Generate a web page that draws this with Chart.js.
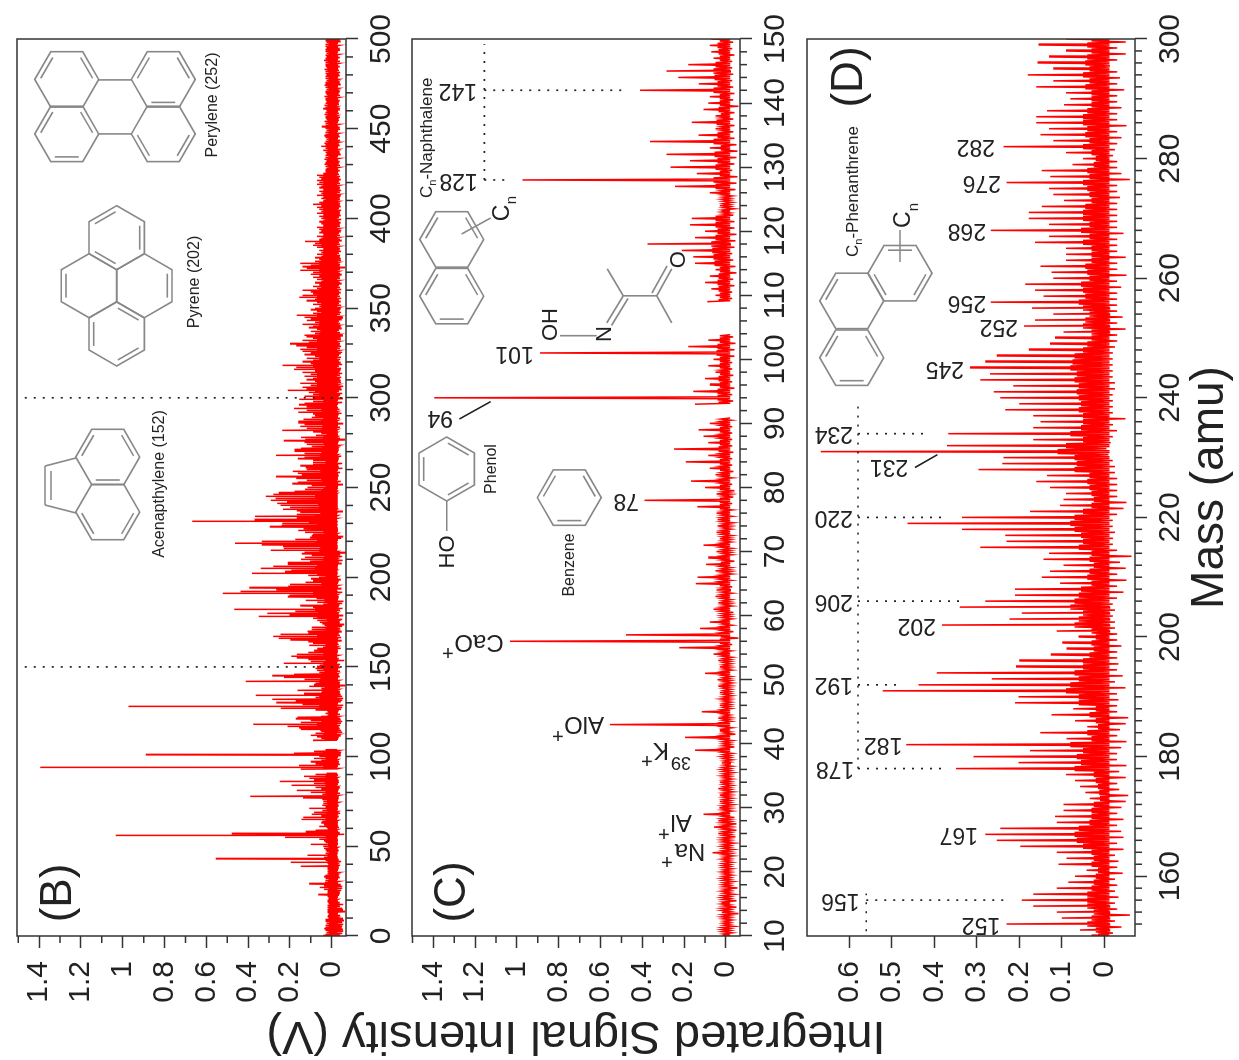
<!DOCTYPE html>
<html>
<head>
<meta charset="utf-8">
<script src="https://cdn.jsdelivr.net/npm/chart.js@4/dist/chart.umd.js"></script>
<style>
  html, body { margin: 0; width: 1239px; height: 1060px; overflow: hidden; background: #fff; }
  /* the figure is a normal three panel plot, turned a quarter turn */
  #page { position: absolute; left: 0; top: 0; width: 1060px; height: 1239px;
          transform-origin: 0 0; transform: translate(0, 1060px) rotate(-90deg); }
  #page canvas { position: absolute; left: 0; top: 0; }
</style>
</head>
<body>
<div id="page">
  <canvas id="panel-b" width="1060" height="1239"></canvas>
  <canvas id="panel-c" width="1060" height="1239"></canvas>
  <canvas id="panel-d" width="1060" height="1239"></canvas>
</div>
<script>
// Peak top per amu, 10..150 (panel C). null = no data recorded
const peaksC = [
  .015,.02,.013,.02,.02,.02,.02,.02,.015,.02,
  .02,.015,.02,.064,.02,.02,.037,.057,.037,.108,
  .032,.03,.03,.037,.03,.02,.02,.02,.02,.148,
  .013,.196,.03,.555,.037,.116,.03,.025,.03,.037,
  .04,.1,.03,.037,.06,.223,1.033,.478,.124,.077,
  .02,.06,.037,.05,.045,.144,.136,.05,.096,.085,
  .045,.108,.03,.045,.04,.04,.045,.137,.39,.045,
  .1,.167,.05,.077,.193,.085,.249,.085,.108,.132,
  .077,null,null,.148,1.395,.156,.077,.1,.05,.085,
  .06,.89,.18,.085,null,null,null,null,null,.09,
  .05,.07,.1,.077,.05,.148,.156,.212,.376,.148,
  .1,.172,.164,.02,.03,.02,.077,.244,.973,.14,
  .265,.172,.284,.077,.364,.132,.05,.164,.05,.108,
  .085,.077,.411,.13,.228,.284,.18,.06,.07,.077,
  .07];
const lowsC = [
  -.03,-.04,-.03,-.06,-.05,-.05,-.04,-.055,-.035,-.03,
  -.03,-.03,-.035,-.035,-.04,-.045,-.05,-.05,-.04,-.03,
  -.035,-.03,-.035,-.03,-.03,-.035,-.03,-.03,-.03,-.04,
  -.03,-.045,-.03,-.025,-.02,-.025,-.025,-.03,-.025,-.03,
  -.025,-.03,-.025,-.03,-.025,-.03,-.06,-.035,-.03,-.03,
  -.035,-.03,-.025,-.03,-.03,-.025,-.03,-.025,-.04,-.03,
  -.03,-.025,-.03,-.025,-.035,-.03,-.03,-.03,-.035,-.04,
  -.03,-.03,-.035,-.03,-.03,-.035,-.03,-.03,-.03,-.03,
  -.025,null,null,-.035,-.03,-.04,-.03,-.035,-.03,-.03,
  -.04,-.04,-.045,-.035,null,null,null,null,null,-.03,
  -.03,-.04,-.035,-.05,-.045,-.035,-.03,-.04,-.045,-.05,
  -.04,-.04,-.035,-.04,-.03,-.03,-.045,-.05,-.055,-.03,
  -.04,-.05,-.055,-.05,-.04,-.035,-.04,-.035,-.04,-.06,
  -.035,-.04,-.035,-.03,-.035,-.03,-.03,-.04,-.03,-.035,
  -.035];
// Top of the dense trace between the integer masses
const midsC = [
  .012,.018,.01,.015,.02,.012,.015,.01,.012,.014,
  .012,.015,.01,.014,.012,.018,.012,.015,.02,.014,
  .018,.012,.015,.01,.014,.012,.015,.01,.012,.018,
  .015,.02,.012,.02,.015,.02,.012,.014,.01,.015,
  .012,.018,.014,.012,.02,.025,.03,.025,.02,.015,
  .018,.025,.015,.02,.022,.03,.028,.018,.025,.02,
  .015,.025,.018,.02,.015,.022,.02,.03,.03,.018,
  .03,.025,.02,.028,.03,.025,.035,.03,.028,.03,
  .025,0,0,.035,.04,.04,.03,.035,.028,.03,
  .03,.045,.04,.03,0,0,0,0,0,.035,
  .03,.035,.04,.035,.03,.055,.06,.065,.07,.05,
  .04,.05,.05,.015,.012,.015,.02,.05,.06,.03,
  .05,.04,.055,.025,.06,.04,.02,.045,.025,.035,
  .03,.03,.06,.04,.055,.06,.05,.03,.035,.04,
  .03];

// Peak top per amu, 150..300 (panel D)
const peaksD = [
  .03,.057,.23,.1,.112,.167,.194,.167,.112,.085,
  .069,.042,.108,.089,.112,.198,.253,.28,.245,.112,
  .116,.096,.096,.034,.045,.057,.069,.09,.349,.202,
  .308,.175,.466,.089,.151,.04,.069,.124,.073,.21,
  .202,.521,.437,.265,.394,.208,.2,.126,.089,.099,
  .061,.112,.382,.223,.194,.34,.28,.21,.21,.104,
  .147,.128,.096,.143,.13,.292,.23,.233,.335,.463,
  .335,.175,.104,.096,.09,.128,.16,.135,.296,.24,
  .237,.667,.37,.167,.367,.167,.15,.167,.233,.2,
  .245,.26,.214,.292,.269,.316,.28,.253,.178,.128,
  .116,.096,.189,.163,.12,.17,.267,.143,.163,.186,
  .12,.124,.15,.09,.09,.09,.163,.13,.267,.13,
  .178,.178,.147,.095,.12,.13,.23,.127,.147,.075,
  .05,.09,.237,.12,.15,.13,.16,.16,.135,.095,
  .08,.09,.16,.12,.18,.12,.157,.13,.09,.155,
  .09];
const lowsD = [
  -.02,-.04,-.025,-.06,-.03,-.025,-.033,-.025,-.03,-.025,
  -.043,-.03,-.033,-.025,-.045,-.03,-.045,-.04,-.03,-.045,
  -.03,-.04,-.05,-.056,-.035,-.03,-.05,-.035,-.052,-.03,
  -.03,-.04,-.052,-.03,-.037,-.05,-.056,-.03,-.03,-.033,
  -.03,-.05,-.025,-.043,-.03,-.033,-.03,-.03,-.04,-.03,
  -.03,-.025,-.025,-.02,-.025,-.02,-.03,-.045,-.03,-.052,
  -.03,-.05,-.037,-.064,-.03,-.02,-.02,-.025,-.02,-.02,
  -.03,-.045,-.052,-.03,-.03,-.03,-.03,-.025,-.025,-.02,
  -.01,-.005,-.015,-.02,-.03,-.02,-.05,-.02,-.02,-.02,
  -.02,-.025,-.025,-.02,-.02,-.02,-.02,-.02,-.025,-.03,
  -.03,-.05,-.03,-.043,-.03,-.03,-.03,-.03,-.04,-.03,
  -.052,-.03,-.03,-.05,-.03,-.03,-.03,-.045,-.03,-.03,
  -.03,-.03,-.03,-.037,-.03,-.03,-.06,-.04,-.03,-.03,
  -.02,-.025,-.03,-.04,-.03,-.052,-.03,-.03,-.04,-.03,
  -.03,-.047,-.03,-.037,-.03,-.013,-.03,-.05,-.03,-.05,
  -.03];
const midsD = [
  .015,.02,.04,.03,.025,.04,.04,.04,.03,.025,
  .02,.015,.03,.025,.03,.05,.065,.07,.06,.035,
  .03,.03,.025,.01,.012,.015,.02,.025,.07,.055,
  .065,.05,.08,.03,.04,.015,.02,.035,.02,.06,
  .06,.09,.08,.06,.07,.05,.05,.035,.025,.03,
  .02,.03,.07,.06,.05,.08,.07,.06,.055,.03,
  .04,.035,.025,.035,.03,.06,.05,.055,.07,.08,
  .07,.05,.03,.025,.03,.035,.04,.035,.07,.065,
  .07,.11,.09,.05,.08,.055,.05,.05,.06,.055,
  .06,.065,.06,.07,.065,.08,.075,.07,.05,.04,
  .03,.03,.05,.045,.035,.05,.06,.045,.05,.055,
  .035,.04,.045,.03,.03,.03,.05,.035,.055,.035,
  .05,.05,.045,.03,.035,.04,.05,.035,.04,.025,
  .02,.03,.05,.035,.045,.04,.05,.05,.04,.03,
  .03,.03,.045,.035,.05,.035,.045,.04,.03,.04,
  .03];

// Panel B is the full scan: these cover 0..9 and 301..500, C and D fill the middle
const peaksHead = [.04,.03,.025,.03,.035,.03,.03,.025,.03,.03];
const lowsHead = [-.04,-.05,-.055,-.05,-.045,-.05,-.055,-.05,-.055,-.05];
const midsHead = [.012,.01,.012,.015,.012,.01,.014,.012,.01,.012];
const peaksTail = [
  .13,.09,.11,.21,.12,.14,.1,.15,.08,.12,
  .09,.13,.1,.14,.08,.18,.17,.236,.1,.14,
  .09,.12,.08,.13,.1,.14,.15,.12,.17,.2,
  .11,.14,.09,.12,.13,.08,.1,.07,.11,.09,
  .14,.08,.12,.1,.13,.167,.09,.07,.1,.08,
  .06,.09,.07,.12,.08,.155,.14,.09,.1,.14,
  .07,.09,.06,.08,.05,.07,.09,.06,.1,.09,
  .15,.12,.14,.1,.15,.08,.06,.08,.05,.07,
  .05,.06,.04,.07,.09,.08,.128,.06,.05,.07,
  .04,.06,.05,.06,.07,.04,.05,.06,.04,.05,
  .06,.04,.07,.05,.06,.07,.05,.09,.06,.04,
  .05,.04,.07,.05,.06,.04,.06,.05,.07,.06,
  .07,.05,.06,.07,.04,.03,.03,.025,.03,.035,
  .03,.025,.035,.03,.03,.025,.03,.04,.03,.05,
  .03,.035,.03,.025,.03,.035,.03,.03,.025,.03,
  .048,.03,.03,.035,.025,.03,.03,.035,.03,.025,
  .04,.03,.035,.03,.025,.03,.03,.035,.025,.03,
  .03,.025,.03,.035,.03,.03,.025,.03,.03,.025,
  .03,.03,.035,.025,.03,.03,.03,.037,.03,.025,
  .03,.025,.03,.03,.025,.03,.03,.025,.03,.025];
const lowsTail = [
  -.04,-.05,-.035,-.045,-.04,-.055,-.035,-.045,-.04,-.035,
  -.045,-.04,-.05,-.035,-.04,-.045,-.035,-.05,-.04,-.035,
  -.04,-.045,-.035,-.04,-.05,-.035,-.04,-.045,-.035,-.04,
  -.035,-.045,-.04,-.05,-.035,-.04,-.035,-.045,-.04,-.035,
  -.04,-.035,-.045,-.05,-.035,-.04,-.045,-.035,-.04,-.035,
  -.045,-.035,-.04,-.035,-.045,-.04,-.035,-.04,-.035,-.045,
  -.04,-.035,-.045,-.04,-.035,-.04,-.035,-.045,-.04,-.035,
  -.04,-.06,-.035,-.04,-.035,-.045,-.04,-.035,-.04,-.035,
  -.045,-.035,-.04,-.035,-.04,-.035,-.045,-.04,-.035,-.04,
  -.035,-.04,-.045,-.035,-.04,-.035,-.04,-.035,-.045,-.035,
  -.04,-.035,-.04,-.045,-.035,-.04,-.035,-.04,-.035,-.04,
  -.035,-.04,-.035,-.04,-.045,-.035,-.04,-.035,-.04,-.035,
  -.04,-.035,-.04,-.035,-.03,-.035,-.03,-.035,-.04,-.03,
  -.035,-.03,-.035,-.03,-.04,-.035,-.03,-.035,-.03,-.035,
  -.03,-.035,-.04,-.03,-.035,-.03,-.035,-.03,-.04,-.035,
  -.03,-.035,-.03,-.035,-.03,-.04,-.03,-.035,-.03,-.035,
  -.04,-.03,-.035,-.03,-.035,-.03,-.035,-.04,-.03,-.035,
  -.03,-.035,-.03,-.04,-.035,-.03,-.035,-.03,-.035,-.03,
  -.04,-.035,-.03,-.035,-.03,-.035,-.04,-.03,-.035,-.03,
  -.035,-.03,-.04,-.035,-.03,-.035,-.03,-.04,-.035,-.03];
const midsTail = [
  .06,.05,.06,.08,.06,.07,.05,.07,.05,.06,
  .05,.07,.06,.07,.05,.08,.08,.09,.06,.07,
  .05,.06,.05,.07,.06,.07,.07,.06,.08,.08,
  .06,.07,.05,.06,.06,.05,.055,.04,.06,.05,
  .06,.05,.06,.05,.06,.07,.05,.04,.05,.05,
  .04,.05,.04,.06,.05,.07,.06,.05,.05,.06,
  .04,.05,.04,.05,.03,.04,.05,.04,.05,.05,
  .06,.06,.06,.05,.06,.05,.04,.05,.03,.04,
  .03,.04,.025,.04,.05,.05,.06,.04,.03,.04,
  .025,.04,.03,.04,.04,.025,.03,.04,.025,.03,
  .04,.025,.04,.03,.04,.04,.03,.05,.04,.025,
  .03,.025,.04,.03,.04,.025,.04,.03,.04,.04,
  .04,.03,.04,.04,.025,.015,.02,.012,.015,.02,
  .015,.012,.02,.015,.015,.012,.015,.02,.015,.025,
  .015,.02,.015,.012,.015,.02,.015,.015,.012,.015,
  .025,.015,.015,.02,.012,.015,.015,.02,.015,.012,
  .02,.015,.02,.015,.012,.015,.015,.02,.012,.015,
  .015,.012,.015,.02,.015,.015,.012,.015,.015,.012,
  .015,.015,.02,.012,.015,.015,.015,.02,.015,.012,
  .015,.012,.015,.015,.012,.015,.015,.012,.015,.012];

const peaksB = [...peaksHead, ...peaksC, ...peaksD.slice(1), ...peaksTail];
const lowsB = [...lowsHead, ...lowsC, ...lowsD.slice(1), ...lowsTail];
const midsB = [...midsHead, ...midsC, ...midsD.slice(1), ...midsTail];

// Tick lists
const massTicksB = [0,50,100,150,200,250,300,350,400,450,500];
const massMinorB = [10,20,30,40,60,70,80,90,110,120,130,140,160,170,180,190,210,220,230,240,260,270,280,290,310,320,330,340,360,370,380,390,410,420,430,440,460,470,480,490];
const massTicksC = [10,20,30,40,50,60,70,80,90,100,110,120,130,140,150];
const massMinorC = [12,14,16,18,22,24,26,28,32,34,36,38,42,44,46,48,52,54,56,58,62,64,66,68,72,74,76,78,82,84,86,88,92,94,96,98,102,104,106,108,112,114,116,118,122,124,126,128,132,134,136,138,142,144,146,148];
const massTicksD = [160,180,200,220,240,260,280,300];
const massMinorD = [152,154,156,158,162,164,166,168,170,172,174,176,178,182,184,186,188,190,192,194,196,198,202,204,206,208,210,212,214,216,218,222,224,226,228,230,232,234,236,238,242,244,246,248,250,252,254,256,258,262,264,266,268,270,272,274,276,278,282,284,286,288,290,292,294,296,298];
const voltTicksBC = [0,.2,.4,.6,.8,1,1.2,1.4];
const voltMinorBC = [.1,.3,.5,.7,.9,1.1,1.3,1.5];
const voltTicksD = [0,.1,.2,.3,.4,.5,.6];

// Dotted guides and peak labels, in mass / volt
const guidesB = [[300,-.048,300,1.477],[150,-.048,150,1.477]];
const guidesC = [[128,1.156,149.2,1.156],[142,1.156,142,.475],[128,1.156,128,1.043]];
const guidesD = [[178,.5795,239.3,.5795],[150.8,.56,157.1,.56],[234,.5795,234,.41],[220,.5795,220,.38],[206,.5795,206,.327],[192,.5795,192,.475],[178,.5795,178,.38],[156,.56,156,.226]];
const peakLabelsC = [['142',142,1.191],['128',128,1.187],['94',90.9,1.306],['101',101,.919],['78',78,.416]];
const peakLabelsD = [['282',282,.257],['276',276,.243],['268',268,.278],['256',256,.278],['252',252,.203],['245',245,.33],['234',234,.591],['231',228.5,.461],['220',220,.591],['206',206,.591],['202',202,.396],['192',192,.591],['182',182,.475],['178',178,.588],['167',167,.297],['156',156,.576],['152',152,.245]];

const RED = '#ff0000';
const INK = '#333333';
Chart.defaults.font.family = '"Liberation Sans", Arial, sans-serif';
Chart.defaults.color = '#222';

// each amu: the spike, then a tight zigzag that paints the solid band under it
function spectrum(startMass, peaks, lows, mids, base) {
  const pts = [];
  peaks.forEach((p, i) => {
    const m = startMass + i;
    if (p === null) { pts.push({ x: m, y: null }); return; }
    const next = mids[i + 1] || mids[i];
    pts.push({ x: m, y: p });
    pts.push({ x: m + .15, y: base });
    pts.push({ x: m + .32, y: mids[i] });
    pts.push({ x: m + .5, y: lows[i] });
    pts.push({ x: m + .68, y: next });
    pts.push({ x: m + .85, y: base });
  });
  return pts;
}

function panelPlugin(p) {
  return {
    id: 'panel',
    afterDatasetsDraw(chart) {
      const { ctx, chartArea: a, scales: { x, y } } = chart;
      ctx.save();
      ctx.strokeStyle = INK;
      ctx.lineWidth = 1.5;
      ctx.strokeRect(a.left, a.top, a.right - a.left, a.bottom - a.top);
      // minor ticks, chart.js only has one tick length per axis
      ctx.beginPath();
      p.massMinor.forEach(m => {
        const px = x.getPixelForValue(m);
        ctx.moveTo(px, a.bottom); ctx.lineTo(px, a.bottom + 7);
      });
      (p.voltMinor || []).forEach(v => {
        const py = y.getPixelForValue(v);
        ctx.moveTo(a.left, py); ctx.lineTo(a.left - 7, py);
      });
      ctx.stroke();
      // dotted guides
      ctx.strokeStyle = '#222';
      ctx.lineWidth = 1.7;
      ctx.setLineDash([2, 7]);
      ctx.beginPath();
      (p.guides || []).forEach(g => {
        ctx.moveTo(x.getPixelForValue(g[0]), y.getPixelForValue(g[1]));
        ctx.lineTo(x.getPixelForValue(g[2]), y.getPixelForValue(g[3]));
      });
      ctx.stroke();
      ctx.setLineDash([]);
      // peak labels stand along the value axis
      ctx.fillStyle = '#222';
      ctx.font = '23px "Liberation Sans"';
      ctx.textAlign = 'left';
      ctx.textBaseline = 'middle';
      (p.labels || []).forEach(l => {
        ctx.save();
        ctx.translate(x.getPixelForValue(l[1]), y.getPixelForValue(l[2]));
        ctx.rotate(-Math.PI / 2);
        ctx.fillText(l[0], 0, 0);
        ctx.restore();
      });
      ctx.restore();
    }
  };
}

function makePanel(id, p) {
  return new Chart(document.getElementById(id), {
    type: 'line',
    data: { datasets: [{ data: p.points, borderColor: RED, borderWidth: 1.5, pointRadius: 0, tension: 0, spanGaps: false }] },
    options: {
      responsive: false,
      animation: false,
      events: [],
      layout: { padding: { top: p.top, right: 39, bottom: 0, left: 0 } },
      plugins: { legend: { display: false }, tooltip: { enabled: false } },
      scales: {
        x: {
          type: 'linear',
          min: p.massMin,
          max: p.massMax,
          afterBuildTicks: s => { s.ticks = p.massTicks.map(v => ({ value: v })); },
          afterFit: s => { s.height = 1239 - p.bottom; s.paddingLeft = 0; s.paddingRight = 0; },
          ticks: { autoSkip: false, maxRotation: 0, minRotation: 0, padding: 6, color: '#222', font: { size: 30 }, callback: v => String(v) },
          grid: { drawOnChartArea: false, tickLength: 12, tickColor: INK, tickWidth: 1.5 },
          border: { display: false },
          title: p.massTitle ? { display: true, text: p.massTitle, color: '#222', font: { size: 46 }, padding: { top: 0, bottom: 1 } } : { display: false },
        },
        y: {
          min: p.voltMin,
          max: p.voltMax,
          afterBuildTicks: s => { s.ticks = p.voltTicks.map(v => ({ value: v })); },
          afterFit: s => { s.width = 124; s.paddingTop = 0; s.paddingBottom = 0; },
          ticks: { autoSkip: false, padding: 13, color: '#222', font: { size: 30 }, callback: v => String(v) },
          grid: { drawOnChartArea: false, tickLength: 12, tickColor: INK, tickWidth: 1.5 },
          border: { display: false },
          title: p.voltTitle ? { display: true, text: p.voltTitle, color: '#222', font: { size: 47, lineHeight: 1 }, padding: { top: 2, bottom: 0 } } : { display: false },
        },
      },
    },
    plugins: [panelPlugin(p), ...(p.extra || [])],
  });
}

// ---- molecule sketches and names, written in picture coordinates ----
const rings = [
  // perylene
  [66.7,79.4,32,0,[3,5]],[163.3,79.4,32,0,[3,5,1]],[66.7,133.9,32,0,[3,5,1]],[163.3,133.9,32,0,[2,0]],
  // pyrene
  [116.7,237.7,32,30,[3,5,1]],[89,285.7,32,30,[2]],[144.3,285.7,32,30,[5]],[116.7,334,32,30,[2,0,4]],
  // acenaphthylene
  [107.7,457,32,0,[3,5,1]],[107.7,512,32,0,[2,0]],
  // naphthalene
  [451.7,239.4,32,0,[3,5]],[451.7,296.1,32,0,[3,5,1]],
  // phenol, benzene
  [446.7,469,32,30,[2,4,0]],[569.3,497.6,32,0,[3,5,1]],
  // phenanthrene
  [851.7,357.7,32,0,[3,5,1]],[851.7,300.9,32,0,[3]],[900,273.2,32,0,[4,0,2]],
];
const bonds = [
  [98.7,79.9,131.7,79.9],[98.7,133.9,131.7,133.9],
  [76,458,45,466],[45,466,45,505],[45,505,76,513],[51,471,51,500],
  [461.7,234,490.7,218],
  [446.7,501,446.7,531],
  [607.3,268.8,623.3,295.8],[623.3,295.8,656.7,295.8],[656.7,295.8,671.7,322.9],
  [656.7,295.8,671.7,268.8],[652,293,667,266],
  [623.3,295.8,606.7,322.9],[628,298.5,611.5,325.5],
  [596.7,335.7,560,335.7],
  [900,230,900,262],
];
const pointers = [[459.3,419,490.7,401.6],[915,467.5,937.3,454.7]];
const notes = [
  ['Perylene (252)',213,105,-90,16],['Pyrene (202)',195,282,-90,16],['Acenapthylene (152)',160,484,-90,16],
  ['Phenol',491.7,469,-90,16],['Benzene',570,565,-90,16],
  ['HO',448,552,-90,22],['OH',551,324.5,-90,22],['N',605,334,-90,22],['O',679.3,259.6,-90,22],
  ['C',503,213,-90,23],['n',512,200,-90,15],['C',904,219.7,-90,23],['n',914,207,-90,15],
  ['(B)',59,893,-90,44],['(C)',453,892,-90,44],['(D)',850,77,-90,44],
  ['CaO',479,641.6,180,24],['+',448,652,180,20],
  ['AlO',584,724,180,24],['+',558,734.5,180,20],
  ['K',661,749.7,180,24],['39',681,761.6,180,18],['+',647,760,180,20],
  ['Al',681,822,180,24],['+',664,833,180,20],
  ['Na',690,851,180,24],['+',667,860.6,180,20],
];
const seriesNames = [['-Naphthalene',427,198],['-Phenanthrene',853,257]];

const sketchPlugin = {
  id: 'sketches',
  afterDraw(chart) {
    const ctx = chart.ctx;
    ctx.save();
    ctx.transform(0, 1, -1, 0, 1060, 0); // from here on x,y are picture pixels
    ctx.strokeStyle = '#888';
    ctx.lineWidth = 1.6;
    rings.forEach(r => {
      const v = [];
      for (let k = 0; k < 6; k++) {
        const t = (r[3] + 60 * k) * Math.PI / 180;
        v.push([r[0] + r[2] * Math.cos(t), r[1] + r[2] * Math.sin(t)]);
      }
      ctx.beginPath();
      v.forEach((q, k) => k ? ctx.lineTo(q[0], q[1]) : ctx.moveTo(q[0], q[1]));
      ctx.closePath();
      ctx.stroke();
      r[4].forEach(e => {
        const a = v[e], b = v[(e + 1) % 6];
        const ax = a[0] + (r[0] - a[0]) * .17, ay = a[1] + (r[1] - a[1]) * .17;
        const bx = b[0] + (r[0] - b[0]) * .17, by = b[1] + (r[1] - b[1]) * .17;
        ctx.beginPath();
        ctx.moveTo(ax + (bx - ax) * .05, ay + (by - ay) * .05);
        ctx.lineTo(bx - (bx - ax) * .05, by - (by - ay) * .05);
        ctx.stroke();
      });
    });
    ctx.beginPath();
    bonds.forEach(b => { ctx.moveTo(b[0], b[1]); ctx.lineTo(b[2], b[3]); });
    ctx.stroke();
    ctx.strokeStyle = '#222';
    ctx.beginPath();
    pointers.forEach(b => { ctx.moveTo(b[0], b[1]); ctx.lineTo(b[2], b[3]); });
    ctx.stroke();

    ctx.fillStyle = '#222';
    ctx.textBaseline = 'middle';
    ctx.textAlign = 'center';
    notes.forEach(n => {
      ctx.save();
      ctx.translate(n[1], n[2]);
      ctx.rotate(n[3] * Math.PI / 180);
      ctx.font = n[4] + 'px "Liberation Sans"';
      ctx.fillText(n[0], 0, 0);
      ctx.restore();
    });
    // C with subscript n in front of the series names
    ctx.textAlign = 'left';
    seriesNames.forEach(s => {
      ctx.save();
      ctx.translate(s[1], s[2]);
      ctx.rotate(-Math.PI / 2);
      ctx.font = '17px "Liberation Sans"';
      ctx.fillText('C', 0, 0);
      const w = ctx.measureText('C').width;
      ctx.font = '11px "Liberation Sans"';
      ctx.fillText('n', w, 6);
      const w2 = ctx.measureText('n').width;
      ctx.font = '17px "Liberation Sans"';
      ctx.fillText(s[0], w + w2, 0);
      ctx.restore();
    });
    ctx.restore();
  }
};

makePanel('panel-b', {
  points: spectrum(0, peaksB, lowsB, midsB, -.025),
  top: 17, bottom: 346, massMin: 0, massMax: 500, voltMin: -.0684, voltMax: 1.506,
  massTicks: massTicksB, massMinor: massMinorB, voltTicks: voltTicksBC, voltMinor: voltMinorBC,
  guides: guidesB,
  extra: [sketchPlugin],
});
makePanel('panel-c', {
  points: spectrum(10, peaksC, lowsC, midsC, -.02),
  top: 412, bottom: 740, massMin: 10, massMax: 150, voltMin: -.067, voltMax: 1.502,
  massTicks: massTicksC, massMinor: massMinorC, voltTicks: voltTicksBC, voltMinor: voltMinorBC,
  guides: guidesC, labels: peakLabelsC,
  voltTitle: 'Integrated Signal Intensity (V)',
});
makePanel('panel-d', {
  points: spectrum(150, peaksD, lowsD, midsD, -.012),
  top: 807, bottom: 1135, massMin: 150, massMax: 300, voltMin: -.0721, voltMax: .6994,
  massTicks: massTicksD, massMinor: massMinorD, voltTicks: voltTicksD,
  guides: guidesD, labels: peakLabelsD,
  massTitle: 'Mass (amu)',
});
</script>
</body>
</html>
